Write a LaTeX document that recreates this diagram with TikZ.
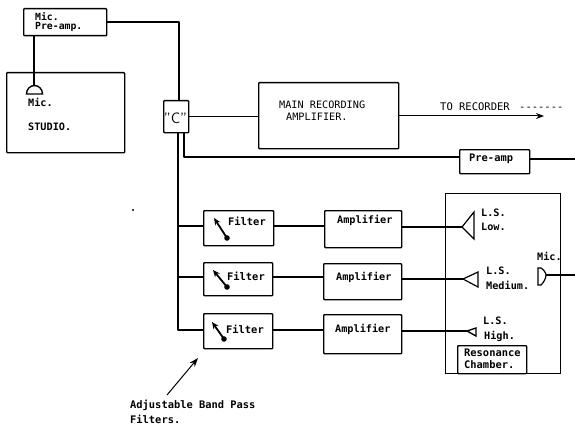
\documentclass[tikz,border=0pt]{standalone}
\usepackage{fontspec}
\setmonofont{DejaVu Sans Mono}
\usetikzlibrary{arrows.meta}
\tikzset{
  x=1pt,y=-1pt,
  wire/.style={line width=1.2pt,black,line join=round},
  thin wire/.style={line width=1pt,black},
  boxn/.style={draw=black,line width=1.4pt,rounded corners=0.8pt,inner sep=0pt,anchor=north west},
  txt/.style={font=\ttfamily\bfseries\fontsize{10.2}{11}\selectfont,inner sep=0pt,anchor=west,text=black},
  plain/.style={font=\ttfamily\fontsize{10.5}{11}\selectfont,inner sep=0pt,anchor=west,text=black},
  tiny txt/.style={font=\ttfamily\bfseries\fontsize{10.4}{11}\selectfont,inner sep=0pt,anchor=west,text=black},
}
\newcommand{\bx}[5]{\node[boxn,minimum width=#4-#2,minimum height=#5-#3] (#1) at (#2,#3) {};}
\newcommand{\knob}[5]{%
  \coordinate (#1t) at (#2,#3); \coordinate (#1b) at (#4,#5);
  \draw[line width=1.8pt,-{Stealth[length=7pt,width=6pt]}] (#1b) -- (#1t);
  \fill (#1b) circle (2.8pt);}
\begin{document}
\begin{tikzpicture}
\useasboundingbox (0,0) rectangle (575,425);
% boxes
\bx{pre}{23}{8}{106}{35}
\bx{studio}{6}{72}{124}{152}
\bx{ccc}{163}{100}{188}{132}
\bx{main}{258}{82}{398}{148}
\bx{preamp}{459}{149}{529}{173}
\bx{fa}{203}{210}{273}{245}
\bx{fb}{203}{262}{272}{295}
\bx{fc}{203}{313}{272}{348}
\bx{aa}{324}{210}{401}{247}
\bx{ab}{323}{263}{401}{299}
\bx{ac}{323}{314}{401}{353}
\node[draw=black,line width=1.2pt,inner sep=0pt,anchor=north west,minimum width=115,minimum height=180] (room) at (445,193) {};
\node[boxn,fill=white,minimum width=69,minimum height=28] (res) at (457,345) {};
% texts
\node[txt,font=\ttfamily\bfseries\fontsize{9.8}{9}\selectfont] (t1) at (35,16.5) {Mic.};
\node[txt,font=\ttfamily\bfseries\fontsize{9.8}{9}\selectfont] (t2) at (35,27) {Pre-amp.};
\node[txt] (t3) at (28,102) {Mic.};
\node[txt] (t4) at (28,127) {STUDIO.};
\node[font=\sffamily\fontsize{15}{15}\selectfont,inner sep=0pt] (t5) at (175.5,118) {"C"};
\node[plain,font=\ttfamily\fontsize{10.2}{10}\selectfont] (t6) at (279,105) {MAIN RECORDING};
\node[plain,font=\ttfamily\fontsize{10.2}{10}\selectfont] (t7) at (286,117) {AMPLIFIER.};
\node[plain] (t8) at (440,107) {TO RECORDER};
\node[plain] (t9) at (519,109) {-------};
\node[tiny txt] (t10) at (469,159) {Pre-amp};
\node[tiny txt] (f1) at (228,221) {Filter};
\node[tiny txt] (f2) at (227,276) {Filter};
\node[tiny txt] (f3) at (226,329) {Filter};
\node[txt] (a1) at (337,220) {Amplifier};
\node[txt] (a2) at (336,277) {Amplifier};
\node[txt] (a3) at (335,329) {Amplifier};
\node[txt] (l1) at (481,213) {L.S.};
\node[txt] (l2) at (481,227) {Low.};
\node[txt] (m1) at (486,271) {L.S.};
\node[txt] (m2) at (486,285) {Medium.};
\node[txt] (h1) at (483,321) {L.S.};
\node[txt] (h2) at (484,336) {High.};
\node[txt] (mm) at (537,256) {Mic.};
\node[tiny txt] (r1) at (464,353) {Resonance};
\node[tiny txt] (r2) at (464,365) {Chamber.};
\node[tiny txt] (n1) at (130,405) {Adjustable Band Pass};
\node[tiny txt] (n2) at (130,419) {Filters.};
% connection points
\coordinate (corner) at (179,22);
\coordinate (cin) at (179,100);
\coordinate (bus0) at (178,132);
\coordinate (busa) at (178,226);
\coordinate (busb) at (178,277);
\coordinate (busc) at (178,330);
\coordinate (tap) at (184,132);
\coordinate (tapb) at (184,157);
\coordinate (mica) at (34,36);
\coordinate (micb) at (34,85);
\coordinate (spa) at (462,227);
\coordinate (spb) at (463,279);
\coordinate (spc) at (467,331);
\coordinate (micr) at (546,275);
\coordinate (outa) at (575,159);
\coordinate (outb) at (575,275);
\coordinate (rec) at (544,116);
\coordinate (arrA) at (167,395);
\coordinate (arrB) at (198,358);
\coordinate (dot) at (133,210);
% connectors
\draw[wire] (pre.east |- corner) -- (corner) -- (cin);
\draw[wire] (mica) -- (micb);
\draw[wire] (ccc.east) -- (main.west |- ccc.east);
\draw[wire] (bus0) -- (busc) -- (fc.west |- busc);
\draw[wire] (busa) -- (fa.west |- busa);
\draw[wire] (busb) -- (fb.west |- busb);
\draw[wire] (tap) -- (tapb) -- (preamp.west |- tapb);
\draw[wire] (preamp.east |- outa) -- (outa);
\draw[wire] (fa.east |- busa) -- (aa.west |- busa);
\draw[wire] (fb.east |- busb) -- (ab.west |- busb);
\draw[wire] (fc.east |- busc) -- (ac.west |- busc);
\draw[wire] (aa.east |- spa) -- (spa);
\draw[wire] (ab.east |- spb) -- (spb);
\draw[wire] (ac.east |- spc) -- (spc);
\draw[wire] (micr) -- (outb);
\draw[thin wire,-{Stealth[length=8pt,width=6pt]}] (main.east |- rec) -- (rec);
\draw[thin wire,-{Stealth[length=9pt,width=6.5pt]}] (arrA) -- (arrB);
\fill (dot) circle (1.2pt);
% microphones and speakers
\draw[line width=1.4pt,fill=white] (26.5,94) arc (180:360:8 and 8.5) -- cycle;
\draw[line width=1.2pt] (spa) -- (474,212) -- (474,239) -- cycle;
\draw[line width=1.2pt] (spb) -- (478,272) -- (478,287) -- cycle;
\draw[line width=1.4pt] (spc) -- (476,328) -- (476,336) -- cycle;
\draw[line width=1.2pt] (538,268) -- (541,268) .. controls (544,270) and (546,273) .. (micr) .. controls (546,279) and (543,283) .. (541,285) -- (538,285) -- cycle;
% filter knobs
\knob{ka}{214}{218}{227}{238}
\knob{kb}{213}{270}{227}{287}
\knob{kc}{212}{322}{224}{339}
\end{tikzpicture}
\end{document}
